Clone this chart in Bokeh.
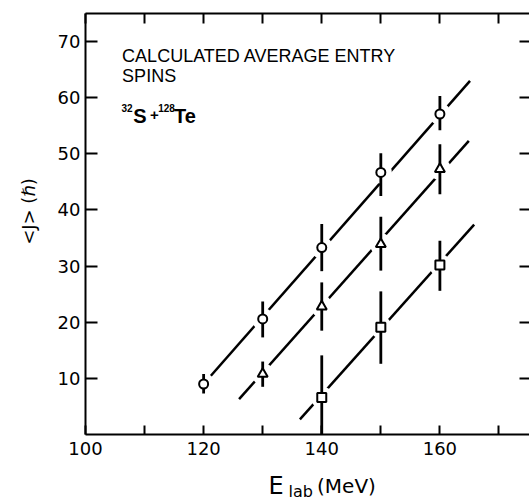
import math
from bokeh.plotting import figure
from bokeh.models import LinearAxis, FixedTicker, Label, Range1d
from bokeh.embed import file_html
from bokeh.resources import INLINE

# ---- data ----
circ_x = [120, 130, 140, 150, 160]
circ_y = [9.0, 20.6, 33.3, 46.7, 57.1]
circ_lo = [7.3, 17.3, 29.1, 42.5, 54.2]
circ_hi = [10.8, 23.7, 37.5, 50.1, 60.3]

tri_x = [130, 140, 150, 160]
tri_y = [10.8, 22.8, 33.9, 47.3]
tri_lo = [8.5, 18.5, 29.2, 42.8]
tri_hi = [13.0, 27.1, 38.8, 51.7]

sq_x = [140, 150, 160]
sq_y = [6.6, 19.1, 30.2]
sq_lo = [0.0, 12.6, 25.6]
sq_hi = [14.1, 25.5, 34.5]

circ_fit_x = [120.0, 165.1]
circ_fit_y = [9.0, 63.0]
tri_fit_x = [126.0, 164.9]
tri_fit_y = [6.3, 52.3]
sq_fit_x = [136.3, 165.8]
sq_fit_y = [2.7, 37.4]

x_major = [100, 120, 140, 160, 180]
x_minor = [110, 130, 150, 170]
y_ticks = [10, 20, 30, 40, 50, 60, 70]

X0, X1 = 100, 175.17     # visible part of the axes box
Y0, Y1 = 0, 75

TICK_FONT = "DejaVu Sans"
TEXT_FONT = "Liberation Sans"

# frame covers the whole canvas; axes are drawn at fixed data locations
p = figure(width=529, height=502,
           x_range=Range1d(85.61, 175.17), y_range=Range1d(-12.11, 77.32),
           x_axis_type=None, y_axis_type=None,
           output_backend="svg", toolbar_location=None,
           min_border_left=0, min_border_right=0,
           min_border_top=0, min_border_bottom=0)
p.outline_line_color = None
p.background_fill_color = "white"
p.border_fill_color = "white"


def style_axis(ax, tick_in, show_labels=True, show_line=True, standoff=5):
    ax.axis_line_width = 2
    ax.axis_line_color = "black" if show_line else None
    ax.major_tick_in = tick_in
    ax.major_tick_out = 0
    ax.minor_tick_in = tick_in
    ax.minor_tick_out = 0
    ax.major_tick_line_width = 2
    ax.minor_tick_line_width = 2
    ax.major_tick_line_color = "black"
    ax.minor_tick_line_color = "black"
    if show_labels:
        ax.major_label_text_font = TICK_FONT
        ax.major_label_text_font_size = "18px"
        ax.major_label_text_color = "black"
        ax.major_label_standoff = standoff
    else:
        ax.major_label_text_font_size = "0px"
        ax.major_label_text_color = None
        ax.major_label_standoff = 0


bottom = LinearAxis(ticker=FixedTicker(ticks=x_major, minor_ticks=x_minor),
                    fixed_location=Y0, bounds=(X0, X1))
style_axis(bottom, 9, standoff=7)
p.add_layout(bottom, "below")

top = LinearAxis(ticker=FixedTicker(ticks=x_major, minor_ticks=x_minor),
                 fixed_location=Y1, bounds=(X0, X1))
style_axis(top, 10, show_labels=False)
p.add_layout(top, "above")

left = LinearAxis(ticker=FixedTicker(ticks=y_ticks, minor_ticks=[]),
                  fixed_location=X0, bounds=(Y0, Y1))
style_axis(left, 12, standoff=5)
p.add_layout(left, "left")

right = LinearAxis(ticker=FixedTicker(ticks=y_ticks, minor_ticks=[]),
                   fixed_location=X1, bounds=(Y0, Y1))
style_axis(right, 10, show_labels=False, show_line=False)
p.add_layout(right, "right")

# fit lines
for fx, fy in [(circ_fit_x, circ_fit_y), (tri_fit_x, tri_fit_y), (sq_fit_x, sq_fit_y)]:
    p.line(fx, fy, line_color="black", line_width=2.5)

# white halos around points (gaps in the lines)
for xs, ys in [(circ_x, circ_y), (tri_x, tri_y), (sq_x, sq_y)]:
    p.scatter(xs, ys, size=22, fill_color="white", line_color=None)

# error bars
for xs, lo, hi in [(circ_x, circ_lo, circ_hi), (tri_x, tri_lo, tri_hi), (sq_x, sq_lo, sq_hi)]:
    p.segment(x0=xs, y0=lo, x1=xs, y1=hi, line_color="black", line_width=2.8)

# markers
p.scatter(circ_x, circ_y, marker="circle", size=9, fill_color="white",
          line_color="black", line_width=2)
p.scatter(tri_x, tri_y, marker="triangle", size=10, fill_color="white",
          line_color="black", line_width=2)
p.scatter(sq_x, sq_y, marker="square", size=9, fill_color="white",
          line_color="black", line_width=2)


def add_text(x, y, text, size, font=TEXT_FONT, style="normal", angle=0.0,
             align="left", baseline="alphabetic"):
    p.add_layout(Label(x=x, y=y, x_units="data", y_units="data", text=text,
                       text_font=font, text_font_size=size,
                       text_font_style=style, text_color="black",
                       angle=angle, text_align=align, text_baseline=baseline))


# title block
add_text(106.2, 67.4, "CALCULATED AVERAGE ENTRY", "18px")
add_text(106.2, 63.9, "SPINS", "18px")
add_text(106.1, 58.1, "32", "10px", style="bold")
add_text(108.1, 56.8, "S", "20px", style="bold")
add_text(110.9, 56.9, "+", "15px", style="bold")
add_text(112.3, 58.1, "128", "10px", style="bold")
add_text(115.0, 56.8, "Te", "20px", style="bold")

# y axis label
add_text(90.35, 39.73, "<J> (\u210f)", "18px", font=TICK_FONT,
         angle=math.pi / 2, align="center")

# x axis label
add_text(130.98, -9.25, "E", "24px", font=TICK_FONT)
add_text(134.37, -10.1, "lab", "16px", font=TICK_FONT)
add_text(139.2, -9.25, "(MeV)", "20px", font=TICK_FONT)

open("out.html", "w").write(file_html(p, INLINE))
